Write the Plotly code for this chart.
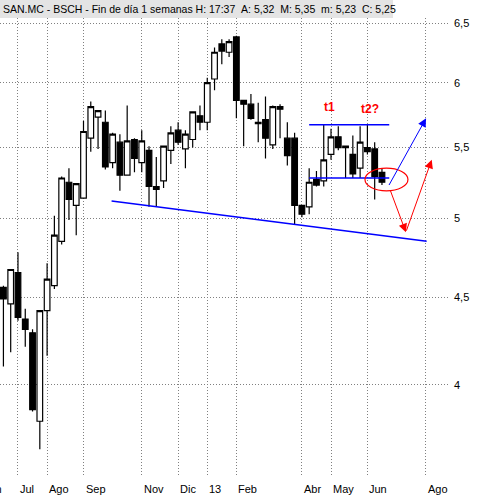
import math
import pandas as pd
import plotly.graph_objects as go

# Weekly candles (week ending Friday), SAN.MC
weeks = [
    "2012-06-22", "2012-06-29", "2012-07-06", "2012-07-13", "2012-07-20", "2012-07-27",
    "2012-08-03", "2012-08-10", "2012-08-17", "2012-08-24", "2012-08-31", "2012-09-07",
    "2012-09-14", "2012-09-21", "2012-09-28", "2012-10-05", "2012-10-12", "2012-10-19",
    "2012-10-26", "2012-11-02", "2012-11-09", "2012-11-16", "2012-11-23", "2012-11-30",
    "2012-12-07", "2012-12-14", "2012-12-21", "2012-12-28", "2013-01-04", "2013-01-11",
    "2013-01-18", "2013-01-25", "2013-02-01", "2013-02-08", "2013-02-15", "2013-02-22",
    "2013-03-01", "2013-03-08", "2013-03-15", "2013-03-22", "2013-03-29", "2013-04-05",
    "2013-04-12", "2013-04-19", "2013-04-26", "2013-05-03", "2013-05-10", "2013-05-17",
    "2013-05-24", "2013-05-31", "2013-06-07", "2013-06-14", "2013-06-21",
]
opens = [
    4.56, 4.46, 4.65, 4.37, 4.29, 3.81, 4.42, 4.57, 4.85, 5.25, 5.09, 5.14,
    5.57, 5.73, 5.69, 5.39, 5.54, 5.30, 5.56, 5.39, 5.48, 5.22, 5.26, 5.48,
    5.63, 5.49, 5.56, 5.74, 5.69, 6.03, 6.32, 6.25, 6.38, 5.86, 5.83, 5.69,
    5.71, 5.52, 5.81, 5.57, 5.57, 5.09, 5.08, 5.27, 5.26, 5.45, 5.58, 5.51,
    5.45, 5.35, 5.50, 5.49, 5.32,
]
highs = [
    4.57, 4.67, 4.78, 4.43, 4.31, 4.42, 4.71, 5.02, 5.29, 5.35, 5.24, 5.70,
    5.85, 5.78, 5.78, 5.61, 5.60, 5.82, 5.57, 5.63, 5.51, 5.43, 5.51, 5.66,
    5.69, 5.63, 5.77, 5.82, 6.04, 6.29, 6.36, 6.36, 6.39, 5.86, 5.91, 5.84,
    5.89, 5.82, 5.83, 5.69, 5.61, 5.09, 5.35, 5.33, 5.67, 5.64, 5.66, 5.51,
    5.59, 5.66, 5.67, 5.54, 5.35,
]
lows = [
    4.10, 4.18, 4.36, 4.21, 3.86, 3.67, 4.16, 4.55, 4.83, 4.99, 4.89, 5.14,
    5.47, 5.49, 5.34, 5.35, 5.19, 5.30, 5.32, 5.32, 5.08, 5.08, 5.21, 5.38,
    5.52, 5.35, 5.50, 5.63, 5.63, 5.94, 6.15, 6.21, 5.72, 5.51, 5.71, 5.54,
    5.42, 5.49, 5.57, 5.37, 4.96, 5.01, 5.03, 5.22, 5.22, 5.41, 5.48, 5.28,
    5.28, 5.28, 5.45, 5.13, 5.23,
]
closes = [
    4.49, 4.67, 4.38, 4.31, 3.87, 4.42, 4.61, 4.89, 5.28, 5.13, 5.24, 5.62,
    5.81, 5.78, 5.36, 5.60, 5.30, 5.55, 5.42, 5.55, 5.22, 5.20, 5.51, 5.61,
    5.54, 5.60, 5.77, 5.69, 6.00, 6.25, 6.26, 6.34, 5.86, 5.83, 5.72, 5.68,
    5.57, 5.81, 5.79, 5.44, 5.09, 5.03, 5.25, 5.23, 5.41, 5.58, 5.50, 5.50,
    5.31, 5.54, 5.47, 5.29, 5.25,
]

# Axis ticks
month_ticks = ["2012-06-01", "2012-07-06", "2012-08-03", "2012-09-07", "2012-11-02",
               "2012-12-07", "2013-01-04", "2013-02-01", "2013-04-05", "2013-05-03",
               "2013-06-07", "2013-08-02"]
month_labels = ["Jun", "Jul", "Ago", "Sep", "Nov", "Dic", "13", "Feb", "Abr", "May",
                "Jun", "Ago"]
price_ticks = [4, 4.5, 5, 5.5, 6, 6.5]
price_labels = ["4", "4,5", "5", "5,5", "6", "6,5"]
x_range = ["2012-06-18 17:00", "2013-08-23 12:00"]

# Hand-drawn analysis: support trendline, pattern levels, projections
support_x = ["2012-10-04", "2013-08-03"]
support_y = [5.12, 4.85]
level_x = ["2013-04-12", "2013-06-28"]
top_level = [5.67, 5.67]
neck_level = [5.28, 5.28]
ellipse_x = ["2013-06-04 16:00", "2013-07-16"]
ellipse_y = [5.19, 5.35]
up_arrow = (["2013-06-27", "2013-08-02 10:00"], [5.22, 5.72])
down_arrow = (["2013-06-28 16:00", "2013-07-14"], [5.20, 4.91])
rebound_arrow = (["2013-07-14", "2013-08-07 20:00"], [4.91, 5.41])
pattern_tags = [("t1", "2013-05-02", 5.81), ("t2?", "2013-06-09 12:00", 5.79)]

header = ("SAN.MC - BSCH - Fin de día 1 semanas H: 17:37\u00a0\u00a0A: 5,32\u00a0\u00a0"
          "M: 5,35\u00a0\u00a0m: 5,23\u00a0\u00a0C: 5,25")

FONT = "Liberation Sans"
BLUE = "#0000ff"
RED = "#ff0000"

fig = go.Figure()
fig.add_trace(go.Candlestick(
    x=weeks, open=opens, high=highs, low=lows, close=closes,
    increasing=dict(line=dict(color="black", width=1.2), fillcolor="white"),
    decreasing=dict(line=dict(color="black", width=1.2), fillcolor="black"),
    whiskerwidth=0, showlegend=False,
))
fig.add_trace(go.Scatter(x=support_x, y=support_y, mode="lines",
                         line=dict(color=BLUE, width=1.5), showlegend=False))
fig.add_trace(go.Scatter(x=level_x, y=top_level, mode="lines",
                         line=dict(color=BLUE, width=1.5), showlegend=False))
fig.add_trace(go.Scatter(x=level_x, y=neck_level, mode="lines",
                         line=dict(color=BLUE, width=1.5), showlegend=False))

fig.add_shape(type="circle", xref="x", yref="y",
              x0=ellipse_x[0], x1=ellipse_x[1], y0=ellipse_y[0], y1=ellipse_y[1],
              line=dict(color=RED, width=1.2))

# header bar
fig.add_shape(type="rect", xref="paper", yref="paper", x0=0, x1=393 / 448,
              y0=1, y1=1 + 18 / 457, fillcolor="#e4e4e4", line=dict(width=0),
              layer="below")

annotations = [dict(text=header, xref="paper", yref="paper", x=0, y=1,
                    xanchor="left", yanchor="bottom", xshift=1, yshift=1,
                    showarrow=False, font=dict(family=FONT, size=10.5, color="black"))]

# month labels sit just right of their gridline; labels left of the visible
# range are placed in paper units so they are cut by the page edge
r0, r1 = pd.Timestamp(x_range[0]), pd.Timestamp(x_range[1])
for t, lab in zip(month_ticks, month_labels):
    ts = pd.Timestamp(t)
    if ts < r0:
        ref, xv = "paper", (ts - r0) / (r1 - r0)
    else:
        ref, xv = "x", t
    annotations.append(dict(text=lab, xref=ref, yref="paper", x=xv, y=0,
                            xanchor="left", yanchor="top", xshift=0, yshift=-6,
                            showarrow=False,
                            font=dict(family=FONT, size=11, color="black")))

for (xs, ys), col in [(up_arrow, BLUE), (down_arrow, RED), (rebound_arrow, RED)]:
    annotations.append(dict(text="", xref="x", yref="y", axref="x", ayref="y",
                            x=xs[1], y=math.log10(ys[1]), ax=xs[0], ay=math.log10(ys[0]),
                            showarrow=True, arrowhead=2, arrowsize=1.7, arrowwidth=1,
                            arrowcolor=col))

for lab, xd, yv in pattern_tags:
    annotations.append(dict(text="<b>%s</b>" % lab, xref="x", yref="y", x=xd,
                            y=math.log10(yv), showarrow=False,
                            font=dict(family=FONT, size=12, color=RED)))

fig.update_layout(
    width=485, height=495,
    margin=dict(l=0, r=37, t=18, b=20),
    paper_bgcolor="white", plot_bgcolor="white",
    font=dict(family=FONT, size=11, color="black"),
    annotations=annotations,
    showlegend=False,
    boxgap=0.12, boxgroupgap=0.12,
    xaxis=dict(type="date", range=x_range,
               tickvals=month_ticks, showticklabels=False, ticks="",
               showgrid=True, gridcolor="#808080", gridwidth=1, griddash="1px,2px",
               zeroline=False, showline=False, rangeslider=dict(visible=False)),
    yaxis=dict(type="log", side="right",
               range=[math.log10(3.545), math.log10(6.544)],
               tickvals=price_ticks, ticktext=price_labels, ticks="",
               ticklabelstandoff=5,
               tickfont=dict(family=FONT, size=11, color="black"),
               showgrid=True, gridcolor="#808080", gridwidth=1, griddash="1px,2px",
               zeroline=False, showline=False),
)

fig.write_html("out.html")
